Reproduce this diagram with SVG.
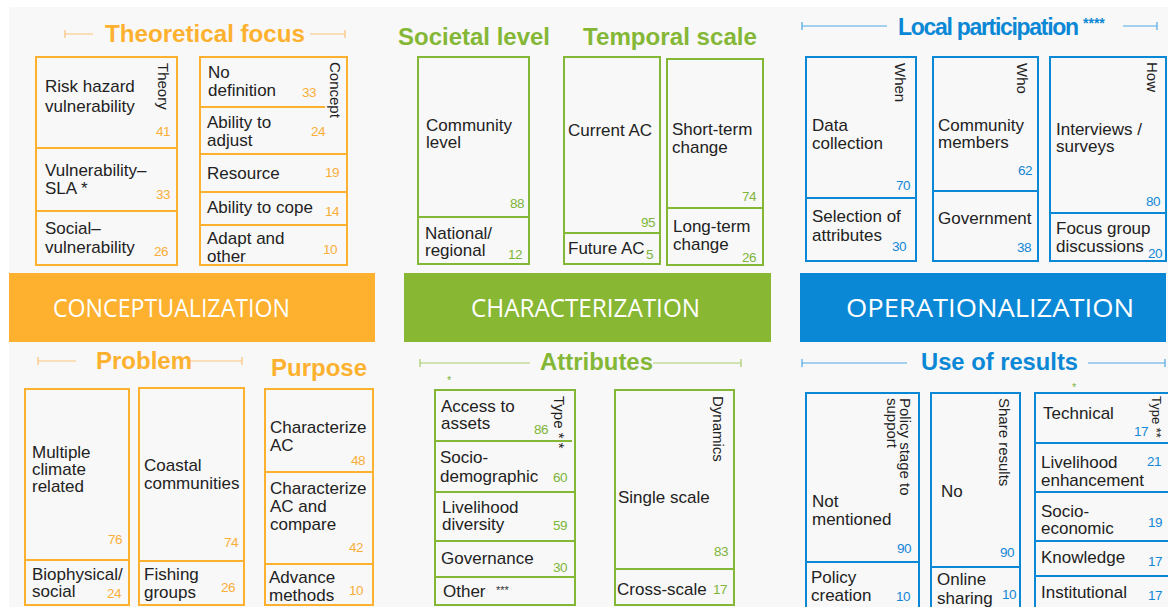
<svg xmlns="http://www.w3.org/2000/svg" width="1168" height="607" viewBox="0 0 1168 607">
<style>
text{font-family:"Liberation Sans",Arial,sans-serif;}
.t{font-size:17px;fill:#222;}
.rt{font-size:15px;fill:#222;}
.n{font-size:13.5px;letter-spacing:-0.5px;}
.no{fill:#F9AE3A;}
.ng{fill:#7DB53A;}
.nb{fill:#1487D6;}
.h{font-size:24px;font-weight:bold;}
.ho{fill:#FDB12E;}
.hg{fill:#85B736;}
.hb{fill:#0A88D6;}
.bo{fill:none;stroke:#FDB12E;stroke-width:2;}
.bg{fill:none;stroke:#85B736;stroke-width:2;}
.bb{fill:none;stroke:#0A88D6;stroke-width:2;}
.lo{stroke:#FCC47A;stroke-width:1.2;fill:none;}
.lg{stroke:#A9CC6E;stroke-width:1.2;fill:none;}
.lb{stroke:#4FA8E2;stroke-width:1.2;fill:none;}
.band{font-family:"Open Sans","Liberation Sans",sans-serif;font-size:26px;fill:#fff;}
</style>
<rect x="0" y="0" width="1168" height="607" fill="#ffffff"/>
<rect x="9" y="7" width="1159" height="600" fill="#F8F8F8"/>

<!-- Headers -->
<g id="hdr-theoretical">
<path class="lo" d="M65 34H93M65 30V38M310 34H345M345 30V38"/>
<text class="h ho" x="105" y="42" textLength="200" lengthAdjust="spacingAndGlyphs">Theoretical focus</text>
</g>
<g id="hdr-societal"><text class="h hg" x="398" y="45" textLength="152" lengthAdjust="spacingAndGlyphs">Societal level</text></g>
<g id="hdr-temporal"><text class="h hg" x="583" y="45" textLength="174" lengthAdjust="spacingAndGlyphs">Temporal scale</text></g>
<g id="hdr-local">
<path class="lb" d="M802 26H887M802 22V30M1123 26H1157M1157 22V30"/>
<text class="hb" x="898" y="35" font-size="23" font-weight="bold" letter-spacing="-1.3">Local participation</text>
<text class="hb" x="1083" y="28" font-size="14" font-weight="bold">****</text>
</g>
<g id="hdr-problem">
<path class="lo" d="M38 361H76M38 357V365M190 361H242M242 357V365"/>
<text class="h ho" x="96" y="369" textLength="96" lengthAdjust="spacingAndGlyphs">Problem</text>
</g>
<g id="hdr-purpose"><text class="h ho" x="271" y="376" textLength="96" lengthAdjust="spacingAndGlyphs">Purpose</text></g>
<g id="hdr-attributes">
<path class="lg" d="M420 363H530M420 359V367M653 363H741M741 359V367"/>
<text class="h hg" x="540" y="370" textLength="113" lengthAdjust="spacingAndGlyphs">Attributes</text>
<text class="ng" x="447" y="384" font-size="11">*</text>
</g>
<g id="hdr-use">
<path class="lb" d="M802 363H907M802 359V367M1088 363H1165M1165 359V367"/>
<text class="h hb" x="921" y="370" textLength="157" lengthAdjust="spacingAndGlyphs">Use of results</text>
<text class="ng" x="1072" y="391" font-size="11">*</text>
</g>

<!-- Bands -->
<g id="band-conceptualization">
<rect x="9" y="273" width="366" height="69" fill="#FDB12E"/>
<text class="band" x="53" y="317" textLength="237" lengthAdjust="spacingAndGlyphs">CONCEPTUALIZATION</text>
</g>
<g id="band-characterization">
<rect x="404" y="273" width="367" height="69" fill="#87B733"/>
<text class="band" x="471" y="317" textLength="229" lengthAdjust="spacingAndGlyphs">CHARACTERIZATION</text>
</g>
<g id="band-operationalization">
<rect x="800" y="273" width="366" height="69" fill="#0A88D6"/>
<text class="band" x="846" y="317" textLength="288" lengthAdjust="spacingAndGlyphs">OPERATIONALIZATION</text>
</g>

<!-- Theory -->
<g id="theory">
<rect class="bo" x="36" y="57" width="141" height="208"/>
<path class="bo" d="M36 148H177M36 211H177"/>
<text class="rt" transform="translate(158 63) rotate(90)">Theory</text>
<text class="t" x="45" y="92">Risk hazard</text>
<text class="t" x="45" y="112">vulnerability</text>
<text class="n no" x="170" y="136" text-anchor="end">41</text>
<text class="t" x="45" y="176">Vulnerability–</text>
<text class="t" x="45" y="194">SLA *</text>
<text class="n no" x="170" y="199" text-anchor="end">33</text>
<text class="t" x="45" y="234">Social–</text>
<text class="t" x="45" y="253">vulnerability</text>
<text class="n no" x="168" y="256" text-anchor="end">26</text>
</g>

<!-- Concept -->
<g id="concept">
<rect class="bo" x="200" y="57" width="147" height="208"/>
<path class="bo" d="M200 107H325M200 154H347M200 192H347M200 225H347"/>
<text class="rt" transform="translate(330 62) rotate(90)">Concept</text>
<text class="t" x="208" y="78">No</text>
<text class="t" x="208" y="96">definition</text>
<text class="n no" x="316" y="97" text-anchor="end">33</text>
<text class="t" x="207" y="128">Ability to</text>
<text class="t" x="207" y="146">adjust</text>
<text class="n no" x="325" y="136" text-anchor="end">24</text>
<text class="t" x="207" y="179">Resource</text>
<text class="n no" x="339" y="177" text-anchor="end">19</text>
<text class="t" x="207" y="213">Ability to cope</text>
<text class="n no" x="339" y="216" text-anchor="end">14</text>
<text class="t" x="207" y="244">Adapt and</text>
<text class="t" x="207" y="262">other</text>
<text class="n no" x="337" y="254" text-anchor="end">10</text>
</g>

<!-- Societal -->
<g id="societal">
<rect class="bg" x="418" y="57" width="111" height="207"/>
<path class="bg" d="M418 217H529"/>
<text class="t" x="426" y="131">Community</text>
<text class="t" x="426" y="148">level</text>
<text class="n ng" x="524" y="208" text-anchor="end">88</text>
<text class="t" x="425" y="239">National/</text>
<text class="t" x="425" y="256">regional</text>
<text class="n ng" x="522" y="259" text-anchor="end">12</text>
</g>

<!-- Current / Future AC -->
<g id="current-ac">
<rect class="bg" x="564" y="57" width="96" height="207"/>
<path class="bg" d="M564 233H660"/>
<text class="t" x="568" y="136">Current AC</text>
<text class="n ng" x="655" y="227" text-anchor="end">95</text>
<text class="t" x="568" y="254">Future AC</text>
<text class="n ng" x="646" y="259">5</text>
</g>

<!-- Short / Long term -->
<g id="term-change">
<rect class="bg" x="667" y="59" width="96" height="206"/>
<path class="bg" d="M667 208H763"/>
<text class="t" x="672" y="135">Short-term</text>
<text class="t" x="672" y="153">change</text>
<text class="n ng" x="756" y="201" text-anchor="end">74</text>
<text class="t" x="673" y="232">Long-term</text>
<text class="t" x="673" y="250">change</text>
<text class="n ng" x="756" y="262" text-anchor="end">26</text>
</g>

<!-- When -->
<g id="when">
<rect class="bb" x="806" y="57" width="110" height="204"/>
<path class="bb" d="M806 198H916"/>
<text class="rt" transform="translate(895 63) rotate(90)">When</text>
<text class="t" x="812" y="131">Data</text>
<text class="t" x="812" y="149">collection</text>
<text class="n nb" x="910" y="190" text-anchor="end">70</text>
<text class="t" x="812" y="222">Selection of</text>
<text class="t" x="812" y="241">attributes</text>
<text class="n nb" x="906" y="251" text-anchor="end">30</text>
</g>

<!-- Who -->
<g id="who">
<rect class="bb" x="933" y="57" width="105" height="204"/>
<path class="bb" d="M933 191H1038"/>
<text class="rt" transform="translate(1017 63) rotate(90)">Who</text>
<text class="t" x="938" y="131">Community</text>
<text class="t" x="938" y="148">members</text>
<text class="n nb" x="1032" y="175" text-anchor="end">62</text>
<text class="t" x="938" y="224">Government</text>
<text class="n nb" x="1031" y="252" text-anchor="end">38</text>
</g>

<!-- How -->
<g id="how">
<rect class="bb" x="1050" y="57" width="116" height="204"/>
<path class="bb" d="M1050 213H1166"/>
<text class="rt" transform="translate(1147 62) rotate(90)">How</text>
<text class="t" x="1056" y="135">Interviews /</text>
<text class="t" x="1056" y="152">surveys</text>
<text class="n nb" x="1160" y="206" text-anchor="end">80</text>
<text class="t" x="1056" y="234">Focus group</text>
<text class="t" x="1056" y="252">discussions</text>
<text class="n nb" x="1148" y="258">20</text>
</g>

<!-- Problem: climate -->
<g id="problem-climate">
<rect class="bo" x="25" y="389" width="104" height="216"/>
<path class="bo" d="M25 560H129"/>
<text class="t" x="32" y="458">Multiple</text>
<text class="t" x="32" y="475">climate</text>
<text class="t" x="32" y="492">related</text>
<text class="n no" x="122" y="544" text-anchor="end">76</text>
<text class="t" x="32" y="580">Biophysical/</text>
<text class="t" x="32" y="597">social</text>
<text class="n no" x="121" y="598" text-anchor="end">24</text>
</g>

<!-- Problem: communities -->
<g id="problem-communities">
<rect class="bo" x="139" y="388" width="105" height="217"/>
<path class="bo" d="M139 561H244"/>
<text class="t" x="144" y="471">Coastal</text>
<text class="t" x="144" y="489">communities</text>
<text class="n no" x="238" y="547" text-anchor="end">74</text>
<text class="t" x="144" y="580">Fishing</text>
<text class="t" x="144" y="598">groups</text>
<text class="n no" x="235" y="592" text-anchor="end">26</text>
</g>

<!-- Purpose -->
<g id="purpose">
<rect class="bo" x="265" y="389" width="108" height="216"/>
<path class="bo" d="M265 472H373M265 564H373"/>
<text class="t" x="270" y="433">Characterize</text>
<text class="t" x="270" y="451">AC</text>
<text class="n no" x="365" y="465" text-anchor="end">48</text>
<text class="t" x="270" y="494">Characterize</text>
<text class="t" x="270" y="512">AC and</text>
<text class="t" x="270" y="530">compare</text>
<text class="n no" x="363" y="552" text-anchor="end">42</text>
<text class="t" x="269" y="583">Advance</text>
<text class="t" x="269" y="601">methods</text>
<text class="n no" x="363" y="595" text-anchor="end">10</text>
</g>

<!-- Attributes type -->
<g id="attr-type">
<rect class="bg" x="435" y="390" width="140" height="215"/>
<path class="bg" d="M435 441H572M435 492H575M435 541H575M435 577H575"/>
<text class="rt" transform="translate(554 396) rotate(90)">Type * *</text>
<text class="t" x="441" y="412">Access to</text>
<text class="t" x="441" y="429">assets</text>
<text class="n ng" x="548" y="434" text-anchor="end">86</text>
<text class="t" x="440" y="463">Socio-</text>
<text class="t" x="440" y="482">demographic</text>
<text class="n ng" x="567" y="482" text-anchor="end">60</text>
<text class="t" x="442" y="513">Livelihood</text>
<text class="t" x="442" y="530">diversity</text>
<text class="n ng" x="567" y="530" text-anchor="end">59</text>
<text class="t" x="441" y="564">Governance</text>
<text class="n ng" x="567" y="572" text-anchor="end">30</text>
<text class="t" x="443" y="597">Other</text>
<text x="496" y="594" font-size="11" fill="#333">***</text>
</g>

<!-- Dynamics -->
<g id="dynamics">
<rect class="bg" x="615" y="390" width="119" height="215"/>
<path class="bg" d="M615 569H734"/>
<text class="rt" transform="translate(713 396) rotate(90)">Dynamics</text>
<text class="t" x="618" y="503">Single scale</text>
<text class="n ng" x="728" y="556" text-anchor="end">83</text>
<text class="t" x="617" y="595">Cross-scale</text>
<text class="n ng" x="727" y="594" text-anchor="end">17</text>
</g>

<!-- Policy stage -->
<g id="policy-stage">
<rect class="bb" x="806" y="393" width="113" height="216"/>
<path class="bb" d="M806 562H919"/>
<text class="rt" transform="translate(900 398) rotate(90)">Policy stage to</text>
<text class="rt" transform="translate(887 398) rotate(90)">support</text>
<text class="t" x="812" y="507">Not</text>
<text class="t" x="812" y="525">mentioned</text>
<text class="n nb" x="911" y="553" text-anchor="end">90</text>
<text class="t" x="811" y="583">Policy</text>
<text class="t" x="811" y="601">creation</text>
<text class="n nb" x="910" y="601" text-anchor="end">10</text>
</g>

<!-- Share results -->
<g id="share-results">
<rect class="bb" x="931" y="393" width="89" height="216"/>
<path class="bb" d="M931 567H1020"/>
<text class="rt" transform="translate(999 398) rotate(90)">Share results</text>
<text class="t" x="941" y="497">No</text>
<text class="n nb" x="1014" y="557" text-anchor="end">90</text>
<text class="t" x="937" y="585">Online</text>
<text class="t" x="937" y="604">sharing</text>
<text class="n nb" x="1016" y="599" text-anchor="end">10</text>
</g>

<!-- Use type -->
<g id="use-type">
<rect class="bb" x="1035" y="393" width="135" height="216"/>
<path class="bb" d="M1035 443H1168M1035 492H1168M1035 541H1168M1035 576H1168"/>
<text transform="translate(1152 396) rotate(90)" font-size="13" fill="#222">Type **</text>
<text class="t" x="1043" y="419">Technical</text>
<text class="n nb" x="1148" y="436" text-anchor="end">17</text>
<text class="t" x="1041" y="468">Livelihood</text>
<text class="t" x="1041" y="486">enhancement</text>
<text class="n nb" x="1161" y="466" text-anchor="end">21</text>
<text class="t" x="1041" y="517">Socio-</text>
<text class="t" x="1041" y="534">economic</text>
<text class="n nb" x="1162" y="527" text-anchor="end">19</text>
<text class="t" x="1041" y="563">Knowledge</text>
<text class="n nb" x="1162" y="566" text-anchor="end">17</text>
<text class="t" x="1041" y="598">Institutional</text>
<text class="n nb" x="1162" y="600" text-anchor="end">17</text>
</g>
</svg>
